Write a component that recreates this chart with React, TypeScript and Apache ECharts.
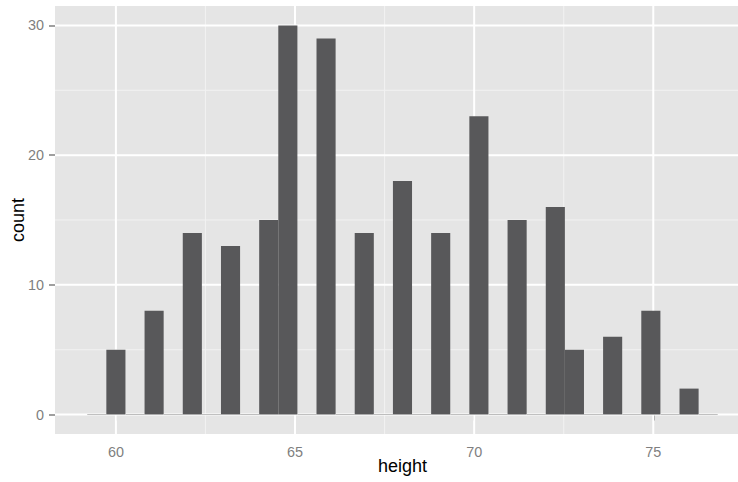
import React, { useEffect, useRef } from "react";
import * as echarts from "echarts";

// Histogram of heights (30-bin style, bins of equal width)
const binStart = 59.2;
const binWidth = 0.5333;
const counts = [0, 5, 0, 8, 0, 14, 0, 13, 0, 15, 30, 0, 29, 0, 14, 0, 18, 0, 14, 0, 23, 0, 15, 0, 16, 5, 0, 6, 0, 8, 0, 2, 0];

const xTicks = [60, 65, 70, 75];
const xMinor = [62.5, 67.5, 72.5, 77.5];
const yTicks = [0, 10, 20, 30];
const yMinor = [5, 15, 25];

const FONT = "'Liberation Sans', Arial, Helvetica, sans-serif";

export default function App() {
  const ref = useRef<HTMLDivElement>(null);
  useEffect(() => {
    if (!ref.current) return;
    const chart = echarts.init(ref.current, undefined, { renderer: "svg" });

    const bins = counts.map((c, i) => [binStart + i * binWidth, binStart + (i + 1) * binWidth, c]);
    const gridData: number[][] = [
      ...xMinor.map((v) => [0, v, 0]),
      ...yMinor.map((v) => [1, v, 0]),
      ...xTicks.map((v) => [0, v, 1]),
      ...yTicks.map((v) => [1, v, 1]),
    ];

    chart.setOption({
      animation: false,
      grid: {
        left: 55,
        top: 6,
        width: 695,
        height: 428,
        show: true,
        backgroundColor: "#E5E5E5",
        borderWidth: 0,
        containLabel: false,
        outerBoundsMode: "none",
      },
      xAxis: {
        type: "value",
        min: 58.3,
        max: 77.7,
        name: "height",
        nameLocation: "middle",
        nameGap: 23,
        nameMoveOverlap: false,
        nameTextStyle: { color: "#000", fontSize: 18, fontFamily: FONT },
        axisLine: { show: false },
        splitLine: { show: false },
        axisTick: {
          show: true,
          customValues: xTicks,
          length: 6,
          lineStyle: { color: "#7f7f7f", width: 1.5 },
        },
        axisLabel: {
          customValues: xTicks,
          color: "#7f7f7f",
          fontSize: 14.4,
          fontFamily: FONT,
          margin: 11,
        },
      },
      yAxis: {
        type: "value",
        min: -1.5,
        max: 31.5,
        name: "count",
        nameLocation: "middle",
        nameGap: 28,
        nameMoveOverlap: false,
        nameRotate: 90,
        nameTextStyle: { color: "#000", fontSize: 18, fontFamily: FONT },
        axisLine: { show: false },
        splitLine: { show: false },
        axisTick: {
          show: true,
          customValues: yTicks,
          length: 6,
          lineStyle: { color: "#7f7f7f", width: 1.5 },
        },
        axisLabel: {
          customValues: yTicks,
          color: "#7f7f7f",
          fontSize: 14.4,
          fontFamily: FONT,
          margin: 11,
        },
      },
      series: [
        {
          type: "custom",
          z: 1,
          silent: true,
          data: gridData,
          renderItem: (params: any, api: any) => {
            const dir = api.value(0);
            const v = api.value(1);
            const major = api.value(2) === 1;
            const cs = params.coordSys;
            const style = { stroke: major ? "#ffffff" : "#F2F2F2", lineWidth: major ? 2 : 1 };
            if (dir === 0) {
              const px = api.coord([v, 0])[0];
              return { type: "line", shape: { x1: px, y1: cs.y, x2: px, y2: cs.y + cs.height }, style };
            }
            const py = api.coord([60, v])[1];
            return { type: "line", shape: { x1: cs.x, y1: py, x2: cs.x + cs.width, y2: py }, style };
          },
        },
        {
          type: "custom",
          z: 2,
          data: bins,
          renderItem: (params: any, api: any) => {
            const x0 = api.value(0);
            const x1 = api.value(1);
            const c = api.value(2);
            const p0 = api.coord([x0, c]);
            const p1 = api.coord([x1, 0]);
            if (c === 0) {
              return {
                type: "rect",
                shape: { x: p0[0], y: p1[1] - 0.5, width: p1[0] - p0[0], height: 1 },
                style: { fill: "#bdbdbd" },
              };
            }
            return {
              type: "rect",
              shape: { x: p0[0], y: p0[1], width: p1[0] - p0[0], height: p1[1] - p0[1] },
              style: { fill: "#58585a" },
            };
          },
        },
      ],
    });
    return () => chart.dispose();
  }, []);
  return <div ref={ref} style={{ position: "absolute", left: 0, top: 0, width: 738, height: 482 }} />;
}
